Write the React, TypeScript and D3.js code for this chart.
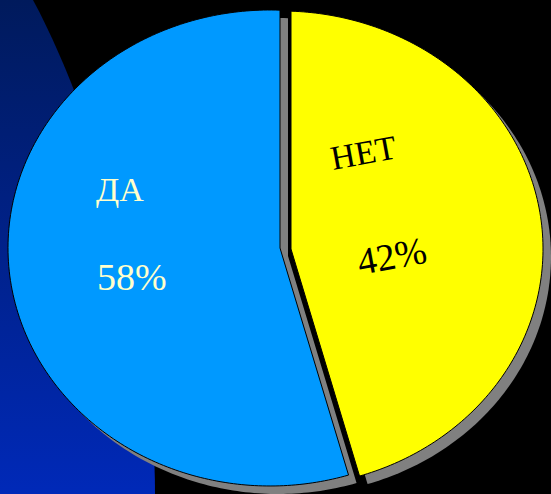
import React from "react";
import * as d3 from "d3";

// slice order follows the picture: НЕТ starts at 12 o'clock, ДА follows clockwise
const categories = ["НЕТ", "ДА"];
const values = [42, 58];
const percentLabels = ["42%", "58%"];

const W = 551;
const H = 494;

// pie geometry (vertex sits a bit right of the ellipse centre, like the tilted original)
const vx = 280;
const vy = 248;
const ellCx = 270;
const rx = 262;
const ry = 238;
const skew = (12 * Math.PI) / 180; // perspective-ish stretch of the first slice
const shadow = { dx: 8, dy: 8 };

const sliceStyle = [
  { fill: "#ffff00", text: "#000000", explode: [11, 1], rotate: -10.5,
    name: { x: 333, y: 170, size: 34 }, pct: { x: 360, y: 275, size: 38 } },
  { fill: "#0099ff", text: "#ffffcc", explode: [0, 0], rotate: 0,
    name: { x: 96, y: 201, size: 34 }, pct: { x: 97, y: 290, size: 38 } },
];

// ray from the vertex at angle a (0 = up, clockwise) to the ellipse rim
const rim = (a: number): [number, number] => {
  const s = Math.sin(a);
  const c = -Math.cos(a);
  const dx = vx - ellCx;
  const A = (s * s) / (rx * rx) + (c * c) / (ry * ry);
  const B = (2 * dx * s) / (rx * rx);
  const C = (dx * dx) / (rx * rx) - 1;
  const t = (-B + Math.sqrt(B * B - 4 * A * C)) / (2 * A);
  return [vx + t * s, vy + t * c];
};

export default function App() {
  const pie = d3.pie<number>().sort(null)(values);
  const split = pie[0].endAngle;
  const warp = d3
    .scaleLinear()
    .domain([0, split, 2 * Math.PI])
    .range([0, split + skew, 2 * Math.PI]);

  const line = d3.line();
  const slicePath = (a0: number, a1: number) => {
    const n = Math.max(8, Math.ceil(((a1 - a0) * 180) / Math.PI));
    const pts: [number, number][] = [[vx, vy]];
    d3.range(n + 1).forEach((i) => pts.push(rim(a0 + ((a1 - a0) * i) / n)));
    return line(pts) + "Z";
  };

  const ff = "'Liberation Serif', 'Times New Roman', serif";

  return (
    <svg
      width={W}
      height={H}
      viewBox={`0 0 ${W} ${H}`}
      style={{ position: "fixed", left: 0, top: 0, background: "#000" }}
    >
      <defs>
        <linearGradient id="bgBlue" x1="0" y1="0" x2="0" y2="1">
          <stop offset="0%" stopColor="#001a5c" />
          <stop offset="100%" stopColor="#0029b8" />
        </linearGradient>
      </defs>
      <rect width={W} height={H} fill="#000" />
      <path d="M0,0 L33,0 C95,115 155,320 155,494 L0,494 Z" fill="url(#bgBlue)" />

      {pie.map((p, i) => {
        const [ex, ey] = sliceStyle[i].explode;
        return (
          <path
            key={"sh" + i}
            d={slicePath(warp(p.startAngle), warp(p.endAngle))}
            transform={`translate(${ex + shadow.dx},${ey + shadow.dy})`}
            fill="#808080"
          />
        );
      })}

      {pie.map((p, i) => {
        const st = sliceStyle[i];
        const [ex, ey] = st.explode;
        return (
          <g key={categories[i]}>
            <path
              d={slicePath(warp(p.startAngle), warp(p.endAngle))}
              transform={`translate(${ex},${ey})`}
              fill={st.fill}
              stroke="#000"
              strokeWidth={1}
            />
            <text
              x={st.name.x}
              y={st.name.y}
              fontFamily={ff}
              fontSize={st.name.size}
              fill={st.text}
              transform={`rotate(${st.rotate},${st.name.x},${st.name.y})`}
            >
              {categories[i]}
            </text>
            <text
              x={st.pct.x}
              y={st.pct.y}
              fontFamily={ff}
              fontSize={st.pct.size}
              fill={st.text}
              transform={`rotate(${st.rotate},${st.pct.x},${st.pct.y})`}
            >
              {percentLabels[i]}
            </text>
          </g>
        );
      })}
    </svg>
  );
}
